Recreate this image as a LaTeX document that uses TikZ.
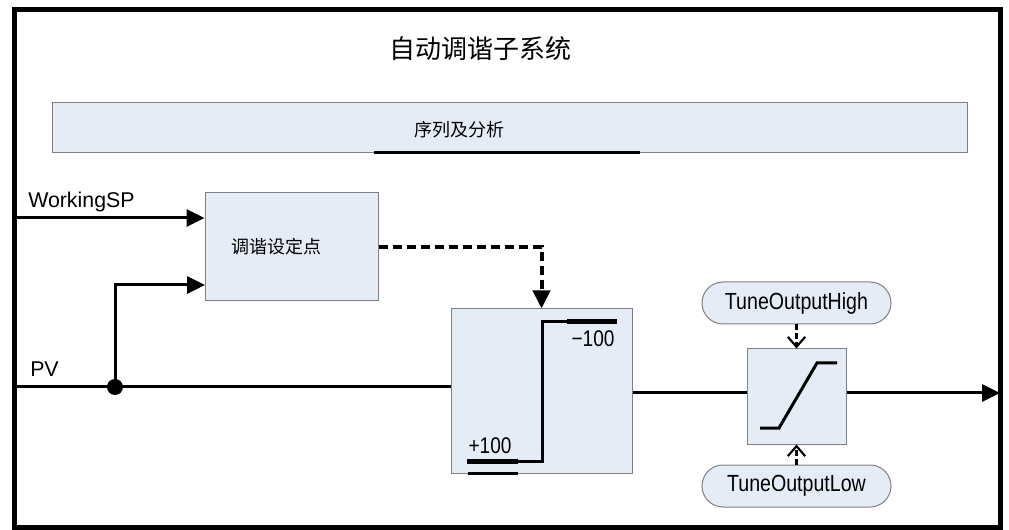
\documentclass[tikz,border=0pt]{standalone}
\usepackage{fontspec}
\setmainfont{Liberation Sans}
\newfontfamily\cjk{Noto Sans CJK SC}
\newfontfamily\narrowsans[FakeStretch=0.84]{Liberation Sans}
\usepackage{tikz}
\usetikzlibrary{arrows.meta, positioning, shapes.misc, calc}
\definecolor{TuneFill}{RGB}{230, 236, 246}
\definecolor{TuneBorder}{RGB}{128, 128, 128}

\tikzset{
  blockbox/.style={draw=TuneBorder, fill=TuneFill, line width=0.75pt, inner sep=0pt},
  pillbox/.style={rounded rectangle, draw=TuneBorder, fill=TuneFill, line width=0.75pt,
    minimum width=141.75pt, minimum height=31.5pt, inner sep=0pt, font=\narrowsans\fontsize{17.5}{19}\selectfont},
  sigline/.style={line width=2.25pt},
  sigarrow/.style={sigline, -{Triangle[length=13.5pt, width=12.75pt]}},
  dasharrow/.style={line width=3pt, dash pattern=on 6.75pt off 3.75pt, -{Triangle[length=13.5pt, width=12.75pt]}},
  limitarrow/.style={line width=2.25pt, dash pattern=on 4.5pt off 2.25pt,
    -{Straight Barb[length=7.5pt, width=13pt, line width=1.6pt]}},
  labeltext/.style={font=\fontsize{16}{18}\selectfont, inner sep=0pt},
  valuetext/.style={font=\narrowsans\fontsize{17}{19}\selectfont, inner sep=0pt}
}

\begin{document}
\begin{tikzpicture}[x=0.75pt, y=-0.75pt]
  \useasboundingbox (0,0) rectangle (1009,530);
  \draw[line width=3.75pt] (14,9.5) rectangle (1000,527.5);

  % title and sequencing bar
  \node (title) at (480,49) {\cjk\fontsize{19.5}{22}\selectfont 自动调谐子系统};
  \node[blockbox, minimum width=686.25pt, minimum height=37.5pt] (seq) at (509.5,128) {};
  \node (seqlabel) at (459,130) {\cjk\fontsize{13.5}{15}\selectfont 序列及分析};
  \draw[line width=2.25pt] (374,153) -- (640,153);

  % blocks
  \node[blockbox, minimum width=129.75pt, minimum height=81pt, text width=90.75pt,
    inner xsep=19.5pt, align=left, font=\cjk\fontsize{13.5}{15}\selectfont] (tunesp) at (291.5,247) {调谐设定点};
  \node[blockbox, minimum width=135.75pt, minimum height=123pt] (relay) at (541.5,391) {};
  \node[blockbox, minimum width=74.25pt, minimum height=71.25pt] (limiter) at (796.5,396.5) {};
  \node[pillbox] (outhigh) at (796.5,303) {TuneOutputHigh};
  \node[pillbox] (outlow) at (796.5,486) {TuneOutputLow};

  \node[labeltext, anchor=base west] (splabel) at (28,208) {WorkingSP};
  \node[labeltext, anchor=base west] (pvlabel) at (30,377) {PV};

  \coordinate (spin) at (14,218);
  \coordinate (pvin) at (14,387);
  \coordinate (pvtap) at (205,285);
  \coordinate (outend) at (1000,393);
  \node[circle, fill=black, inner sep=0pt, minimum size=12pt] (pvdot) at (115,387) {};

  % signals
  \draw[sigarrow] (spin) -- (spin -| tunesp.west);
  \draw[sigline] (pvin) -- (pvin -| relay.west);
  \draw[sigarrow] (pvdot.center) |- (pvtap);
  \draw[dasharrow] (tunesp.east) -| (relay.north);
  \draw[sigline] (relay.east |- outend) -- (limiter.west |- outend);
  \draw[sigarrow] (limiter.east |- outend) -- (outend);
  \draw[limitarrow] (outhigh.south) -- (outhigh.south |- limiter.north);
  \draw[limitarrow] (outlow.north) -- (outlow.north |- limiter.south);

  % relay characteristic
  \draw[line width=2.25pt] (467,461) -- (542,461) -- (542,322) -- (617,322);
  \draw[line width=3.75pt] (567,322) -- (617,322);
  \draw[line width=3.75pt] (467,461) -- (518,461);
  \draw[line width=2.25pt] (468,473) -- (518,473);
  \node[valuetext] (neglabel) at (593,339) {−100};
  \node[valuetext] (poslabel) at (490,446) {+100};

  % limiter characteristic
  \draw[line width=2.25pt] (760,428) -- (779,428) -- (817,363) -- (837,363);
\end{tikzpicture}
\end{document}
